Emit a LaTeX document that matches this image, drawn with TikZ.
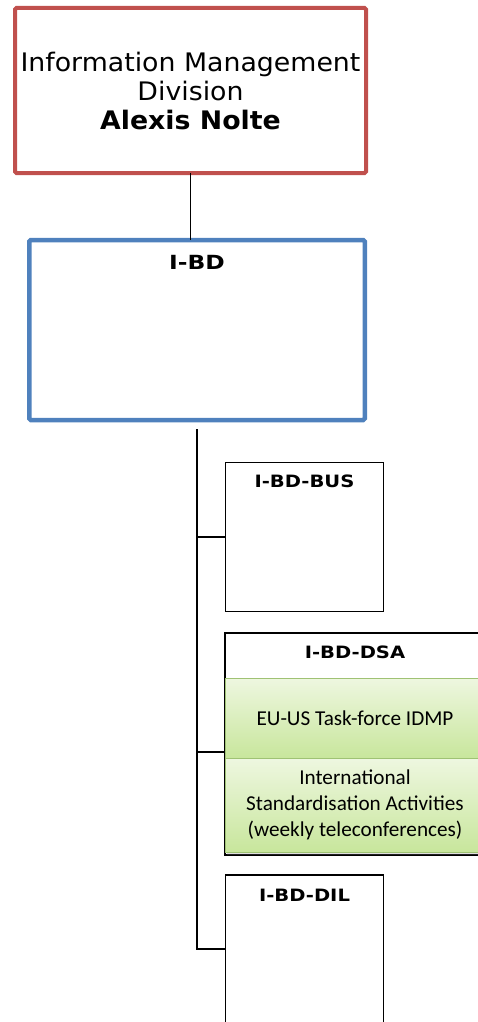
\documentclass[tikz,border=0pt]{standalone}
\usepackage{fontspec}
\setmainfont{DejaVu Sans}
\newfontfamily\calib{Carlito}
\newfontfamily\wideverd{DejaVu Sans}[FakeStretch=1.05]
\newfontfamily\titlefont{DejaVu Sans}[FakeStretch=1.15]
\newfontfamily\bigtitlefont{DejaVu Sans}[FakeStretch=1.2]
\usetikzlibrary{shadows}
\definecolor{redb}{HTML}{C0504D}
\definecolor{blueb}{HTML}{4F81BD}
\definecolor{gtop}{HTML}{EEF7E0}
\definecolor{gbot}{HTML}{C8E69C}
\definecolor{gline}{HTML}{9FC274}
\tikzset{
  px/.style={x=1pt,y=-1pt},
  boxbase/.style={rectangle, inner sep=0pt, outer sep=0pt, align=center},
  topbox/.style={boxbase, draw=redb, line width=4pt, rounded corners=1.5pt, font=\wideverd\fontsize{25.5}{29}\selectfont},
  midbox/.style={boxbase, draw=blueb, line width=4.5pt, rounded corners=1.5pt},
  subbox/.style={boxbase, draw=black, line width=1.4pt, fill=white},
  greenbox/.style={boxbase, draw=gline, line width=0.8pt, top color=gtop, bottom color=gbot,
     font=\calib\fontsize{21.2}{26}\selectfont},
  ttl/.style={font=\titlefont\bfseries\fontsize{17}{20}\selectfont, inner sep=0pt, anchor=center},
  conn/.style={draw=black, line width=1.6pt},
}
\begin{document}
\begin{tikzpicture}[px]
\useasboundingbox (0,0) rectangle (478,1022);
% top
\node[topbox, minimum width=351pt, minimum height=165pt] (top) at (190.5,90.5)
  {Information Management\\Division\\\textbf{Alexis Nolte}};
% I-BD
\node[midbox, minimum width=335.5pt, minimum height=180pt] (ibd) at (197,330) {};
\node[ttl, font=\bigtitlefont\bfseries\fontsize{19.5}{24}\selectfont] (ibdt) at (197,262) {I-BD};
% sub boxes
\node[subbox, minimum width=158pt, minimum height=149pt] (bus) at (304.5,537) {};
\node[ttl] (bust) at (304.5,481) {I-BD-BUS};
\node[subbox, minimum width=260pt, minimum height=222pt] (dsa) at (355,744) {};
\node[ttl] (dsat) at (355,652) {I-BD-DSA};
\node[greenbox, minimum width=260pt, minimum height=94pt,
  drop shadow={opacity=0.25, shadow xshift=1.5pt, shadow yshift=-3pt}] (g2) at (355,805)
  {International\\Standardisation Activities\\(weekly teleconferences)};
\node[greenbox, minimum width=260pt, minimum height=80pt] (g1) at (355,718) {EU-US Task-force IDMP};
\node[subbox, minimum width=158pt, minimum height=148pt] (dil) at (304.5,949) {};
\node[ttl] (dilt) at (304.5,895) {I-BD-DIL};
% connectors
\coordinate (trunk) at (197,429);
\draw[conn] (top.south) -- (top.south |- ibd.north);
\draw[conn] (trunk) |- (bus.west);
\draw[conn] (trunk) |- ([yshift=-8pt]dsa.west);
\draw[conn] (trunk) |- (dil.west);
\end{tikzpicture}
\end{document}
